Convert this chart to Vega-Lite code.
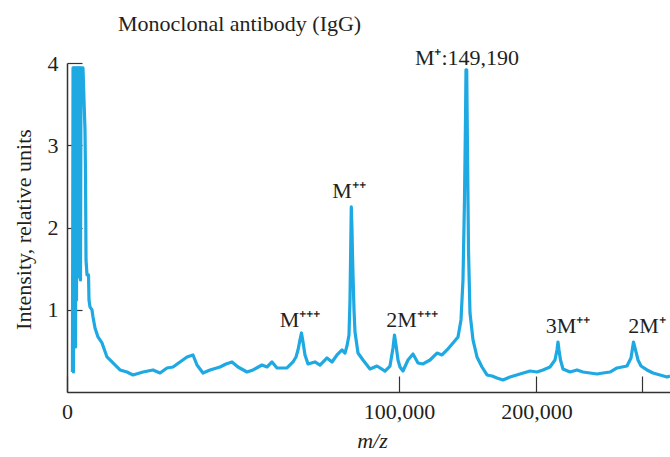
{
  "$schema": "https://vega.github.io/schema/vega-lite/v6.json",
  "autosize": "none",
  "width": 603,
  "height": 329,
  "padding": {"left": 67, "top": 63, "right": 0, "bottom": 65},
  "background": "white",
  "config": {
    "view": {"stroke": null},
    "font": "Liberation Serif",
    "axis": {"labelFont": "Liberation Serif", "titleFont": "Liberation Serif", "labelFontSize": 22, "titleFontSize": 22, "labelColor": "#231f20", "titleColor": "#231f20", "domainColor": "#333", "tickColor": "#333", "domainWidth": 1.5, "tickWidth": 1.2, "grid": false, "titleFontWeight": "normal"},
    "title": {"font": "Liberation Serif", "fontSize": 22, "fontWeight": "normal", "color": "#231f20"}
  },
  "title": {"text": "Monoclonal antibody (IgG)", "anchor": "start", "dx": 51, "offset": 11, "frame": "group"},
  "datasets": {
    "spectrum": [
      {"mz": 27, "i": 0.243}, {"mz": 33, "i": 3.94}, {"mz": 38, "i": 0.243}, {"mz": 44, "i": 3.94},
      {"mz": 51, "i": 0.547}, {"mz": 58, "i": 3.94}, {"mz": 66, "i": 0.547}, {"mz": 74, "i": 3.94},
      {"mz": 82, "i": 1.119}, {"mz": 91, "i": 3.94}, {"mz": 100, "i": 1.399}, {"mz": 110, "i": 3.94},
      {"mz": 120, "i": 1.399}, {"mz": 131, "i": 3.94}, {"mz": 142, "i": 1.849}, {"mz": 153, "i": 3.94},
      {"mz": 165, "i": 1.362}, {"mz": 178, "i": 3.94}, {"mz": 232, "i": 3.94}, {"mz": 262, "i": 3.552},
      {"mz": 294, "i": 3.187}, {"mz": 311, "i": 2.64}, {"mz": 328, "i": 1.606}, {"mz": 363, "i": 1.423},
      {"mz": 420, "i": 1.423}, {"mz": 439, "i": 1.119}, {"mz": 480, "i": 1.034}, {"mz": 567, "i": 0.998},
      {"mz": 614, "i": 0.912}, {"mz": 712, "i": 0.779}, {"mz": 872, "i": 0.669}, {"mz": 1112, "i": 0.596},
      {"mz": 1452, "i": 0.426}, {"mz": 1920, "i": 0.353}, {"mz": 2549, "i": 0.268}, {"mz": 3267, "i": 0.243},
      {"mz": 3953, "i": 0.207}, {"mz": 5242, "i": 0.243}, {"mz": 6712, "i": 0.268}, {"mz": 7849, "i": 0.231},
      {"mz": 9075, "i": 0.292}, {"mz": 10197, "i": 0.304}, {"mz": 11588, "i": 0.365}, {"mz": 13069, "i": 0.426},
      {"mz": 14408, "i": 0.45}, {"mz": 15338, "i": 0.328}, {"mz": 16786, "i": 0.231}, {"mz": 18558, "i": 0.268},
      {"mz": 21245, "i": 0.304}, {"mz": 22943, "i": 0.341}, {"mz": 24708, "i": 0.365}, {"mz": 26537, "i": 0.304},
      {"mz": 29404, "i": 0.243}, {"mz": 31397, "i": 0.268}, {"mz": 34509, "i": 0.328}, {"mz": 36302, "i": 0.304},
      {"mz": 38139, "i": 0.365}, {"mz": 40023, "i": 0.292}, {"mz": 43925, "i": 0.292}, {"mz": 46354, "i": 0.365},
      {"mz": 47592, "i": 0.426}, {"mz": 48427, "i": 0.511}, {"mz": 49269, "i": 0.633}, {"mz": 49906, "i": 0.718},
      {"mz": 50546, "i": 0.608}, {"mz": 51407, "i": 0.45}, {"mz": 52711, "i": 0.341}, {"mz": 55817, "i": 0.365},
      {"mz": 58091, "i": 0.328}, {"mz": 61350, "i": 0.414}, {"mz": 63732, "i": 0.365}, {"mz": 66160, "i": 0.45},
      {"mz": 68633, "i": 0.511}, {"mz": 70139, "i": 0.474}, {"mz": 71151, "i": 0.56}, {"mz": 72171, "i": 0.693},
      {"mz": 72684, "i": 1.119}, {"mz": 73044, "i": 1.727}, {"mz": 73353, "i": 2.251}, {"mz": 73715, "i": 1.971},
      {"mz": 74078, "i": 1.569}, {"mz": 74753, "i": 0.998}, {"mz": 75275, "i": 0.73}, {"mz": 76851, "i": 0.474},
      {"mz": 79515, "i": 0.389}, {"mz": 83321, "i": 0.28}, {"mz": 87215, "i": 0.316}, {"mz": 91774, "i": 0.255},
      {"mz": 94683, "i": 0.316}, {"mz": 96450, "i": 0.535}, {"mz": 97340, "i": 0.693}, {"mz": 98233, "i": 0.572},
      {"mz": 99431, "i": 0.389}, {"mz": 100636, "i": 0.304}, {"mz": 102458, "i": 0.255}, {"mz": 105530, "i": 0.389},
      {"mz": 108647, "i": 0.462}, {"mz": 111810, "i": 0.353}, {"mz": 115018, "i": 0.341}, {"mz": 119586, "i": 0.389},
      {"mz": 124243, "i": 0.474}, {"mz": 127623, "i": 0.45}, {"mz": 131049, "i": 0.511}, {"mz": 135220, "i": 0.596},
      {"mz": 138746, "i": 0.669}, {"mz": 140883, "i": 0.876}, {"mz": 142317, "i": 1.362}, {"mz": 143397, "i": 2.336},
      {"mz": 144120, "i": 3.309}, {"mz": 144481, "i": 3.917}, {"mz": 144989, "i": 3.917}, {"mz": 145570, "i": 2.944},
      {"mz": 146298, "i": 1.727}, {"mz": 147393, "i": 0.961}, {"mz": 149596, "i": 0.633}, {"mz": 152558, "i": 0.426},
      {"mz": 156302, "i": 0.304}, {"mz": 160090, "i": 0.207}, {"mz": 163925, "i": 0.195}, {"mz": 167805, "i": 0.17},
      {"mz": 172520, "i": 0.146}, {"mz": 178104, "i": 0.182}, {"mz": 186235, "i": 0.219}, {"mz": 194549, "i": 0.255},
      {"mz": 200476, "i": 0.243}, {"mz": 205627, "i": 0.268}, {"mz": 211720, "i": 0.304}, {"mz": 216126, "i": 0.389},
      {"mz": 217901, "i": 0.511}, {"mz": 218791, "i": 0.608}, {"mz": 219683, "i": 0.511}, {"mz": 221025, "i": 0.389},
      {"mz": 223270, "i": 0.28}, {"mz": 229616, "i": 0.243}, {"mz": 236052, "i": 0.268}, {"mz": 241638, "i": 0.243},
      {"mz": 248239, "i": 0.231}, {"mz": 254929, "i": 0.219}, {"mz": 260733, "i": 0.231}, {"mz": 267588, "i": 0.243},
      {"mz": 274532, "i": 0.292}, {"mz": 284605, "i": 0.316}, {"mz": 288686, "i": 0.414}, {"mz": 291250, "i": 0.608},
      {"mz": 293827, "i": 0.487}, {"mz": 295896, "i": 0.389}, {"mz": 299013, "i": 0.316}, {"mz": 305297, "i": 0.268},
      {"mz": 311646, "i": 0.231}, {"mz": 319136, "i": 0.207}, {"mz": 326715, "i": 0.182}, {"mz": 329990, "i": 0.195}
    ],
    "labels": [
      {"mz": 145207, "i": 3.98, "label": "M⁺:149,190"},
      {"mz": 72173, "i": 2.36, "label": "M⁺⁺"},
      {"mz": 49269, "i": 0.79, "label": "M⁺⁺⁺"},
      {"mz": 108019, "i": 0.79, "label": "2M⁺⁺⁺"},
      {"mz": 227796, "i": 0.72, "label": "3M⁺⁺"},
      {"mz": 305297, "i": 0.72, "label": "2M⁺"}
    ]
  },
  "layer": [
    {
      "data": {"name": "spectrum"},
      "mark": {"type": "line", "color": "#1fa9e3", "strokeWidth": 3.2, "clip": true, "strokeJoin": "round"},
      "encoding": {
        "x": {"field": "mz", "type": "quantitative", "scale": {"type": "sqrt", "domain": [0, 330000], "nice": false, "zero": true},
          "axis": {"values": [0, 100000, 200000, 300000], "labelExpr": "datum.value == 300000 ? '' : format(datum.value, ',')", "tickSize": -16, "labelPadding": 25, "labelFlush": false, "title": "m/z", "titleFontStyle": "italic", "titleX": 305, "titleY": 48, "titleBaseline": "middle", "titleAlign": "center"}},
        "y": {"field": "i", "type": "quantitative", "scale": {"domain": [0, 4], "nice": false},
          "axis": {"values": [1, 2, 3, 4], "format": "d", "tickSize": -15, "labelPadding": 24, "title": "Intensity, relative units", "titleX": -44, "titleY": 166, "titleBaseline": "middle", "titleAlign": "center"}}
      }
    },
    {
      "data": {"name": "labels"},
      "mark": {"type": "text", "font": "Liberation Serif", "fontSize": 22, "color": "#231f20", "align": "center", "baseline": "alphabetic"},
      "encoding": {
        "x": {"field": "mz", "type": "quantitative"},
        "y": {"field": "i", "type": "quantitative"},
        "text": {"field": "label"}
      }
    }
  ]
}
